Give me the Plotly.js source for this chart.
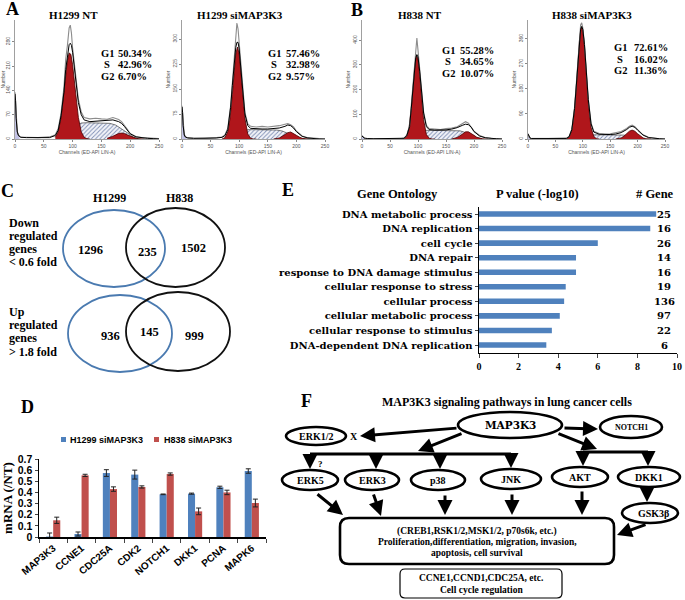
<!DOCTYPE html>
<html>
<head>
<meta charset="utf-8">
<script src="https://cdn.plot.ly/plotly-3.0.1.min.js"></script>
<style>body{margin:0;background:#fff}#fig{width:685px;height:600px}</style>
</head>
<body>
<div id="fig"></div>
<script>
var W = 685, H = 600;
function px(x) { return x / W; }
function py(y) { return 1 - y / H; }

var SERIF = "Liberation Serif, Times New Roman, serif";
var WIDE = "DejaVu Serif, serif";
var SANS = "Liberation Sans, Arial, sans-serif";

// ---- A / B : DNA content histograms (channels vs count)
var CHX = [0,1,2,4,6,8,10,20,40,60,70,75,80,85,88,91,94,96,98,100,103,106,110,115,120,130,140,150,160,170,180,185,190,195,200,210,220,230,240,250];
var G1X = [70,75,80,84,88,91,94,97,100,103,106,110,115,120,125,130];
var SX = [85,95,105,115,125,135,145,155,165,175,185,195,205,215];
var G2X = [160,165,170,175,180,185,190,195,200,205,210,215,220,225];
var DBX = [0,1,2,3,4,6,8];

var NT1299_MODEL = [130,110,60,20,10,6,5,4,3,4,10,25,68,135,200,245,272,276,270,250,205,160,105,70,55,50,51,52,54,55,50,45,36,25,15,6,3,2,1,0];
var NT1299_DATA = [135,100,55,22,12,7,5,5,4,6,12,30,75,150,230,270,320,328,305,262,215,165,115,78,62,58,60,58,57,62,56,50,40,28,16,7,4,3,2,1];
var NT1299_G1 = [5,21,62,118,185,226,248,244,214,168,118,62,21,5,1,0];
var NT1299_S = [5,20,38,46,47,47,47,46,45,40,30,18,6,0];
var NT1299_G2 = [2,4,8,12,16,17,16,12,8,4,2,1,0,0];
var NT1299_DEB = [130,110,60,35,20,10,6];

var SI1299_MODEL = [96,80,40,12,6,4,3,2,2,3,5,10,28,95,160,225,275,290,290,270,220,150,75,40,32,30,30,30,31,33,38,42,40,33,22,8,3,1,0,0];
var SI1299_DATA = [100,75,38,14,7,5,4,3,2,4,6,12,32,100,170,240,320,348,330,290,230,160,80,45,38,36,38,36,37,40,44,46,43,36,24,9,4,2,1,0];
var SI1299_G1 = [0,4,21,62,134,200,255,276,255,200,134,62,15,2,0,0];
var SI1299_S = [2,10,22,28,28,28,28,28,27,24,18,10,3,0];
var SI1299_G2 = [0,1,3,8,14,19,21,17,11,6,2,1,0,0];
var SI1299_DEB = [96,80,40,20,10,5,3];

var NT838_MODEL = [12,10,6,4,3,2,2,1,1,1,1,3,14,50,125,210,295,330,342,332,275,195,105,50,38,36,36,37,40,46,56,60,58,48,30,12,5,2,1,0];
var NT838_DATA = [14,10,6,4,3,2,2,2,1,2,2,4,16,55,135,225,320,380,409,360,290,200,110,55,42,40,38,42,44,50,62,70,64,50,32,14,6,3,1,0];
var NT838_G1 = [0,2,12,46,122,206,289,336,326,263,178,78,18,3,0,0];
var NT838_S = [3,12,28,35,35,35,35,35,35,33,26,15,5,0];
var NT838_G2 = [0,2,6,13,22,29,29,23,15,7,3,1,0,0];
var NT838_DEB = [12,10,6,4,3,2,2];

var SI838_MODEL = [18,14,6,3,2,2,1,1,1,1,2,8,34,110,190,282,362,395,405,395,340,255,142,55,25,17,16,16,18,23,34,42,46,42,32,14,5,2,1,0];
var SI838_DATA = [20,14,6,3,2,2,1,1,1,2,3,9,36,115,198,290,375,410,418,400,345,260,145,58,28,20,18,19,22,27,38,46,50,44,34,15,6,3,1,0];
var SI838_G1 = [0,7,32,88,185,276,357,402,392,334,246,132,42,9,1,0];
var SI838_S = [1,6,12,15,15,15,15,15,15,14,11,7,2,0];
var SI838_G2 = [0,1,4,10,19,28,32,28,19,10,4,1,0,0];
var SI838_DEB = [18,14,6,4,3,2,1];

var HIST_NAMES = ["H1299 NT", "H1299 siMAP3K3", "H838 NT", "H838 siMAP3K3"];
var PHASES = ["G1", "S", "G2"];
var HIST_G1P = ["50.34%", "57.46%", "55.28%", "72.61%"];
var HIST_SP = ["42.96%", "32.98%", "34.65%", "16.02%"];
var HIST_G2P = ["6.70%", "9.57%", "10.07%", "11.36%"];
var HIST_MEAN = [[95], [97], [98], [98, 193]];

var HIST_MODEL = [NT1299_MODEL, SI1299_MODEL, NT838_MODEL, SI838_MODEL];
var HIST_DATA = [NT1299_DATA, SI1299_DATA, NT838_DATA, SI838_DATA];
var HIST_G1 = [NT1299_G1, SI1299_G1, NT838_G1, SI838_G1];
var HIST_S = [NT1299_S, SI1299_S, NT838_S, SI838_S];
var HIST_G2 = [NT1299_G2, SI1299_G2, NT838_G2, SI838_G2];
var HIST_DEB = [NT1299_DEB, SI1299_DEB, NT838_DEB, SI838_DEB];

// ---- C : venn counts (H1299 only, shared, H838 only)
var VENN_DOWN = [1296, 235, 1502];
var VENN_UP = [936, 145, 999];

// ---- E : gene ontology
var GO_TERMS = ["DNA metabolic process", "DNA replication", "cell cycle", "DNA repair",
	"response to DNA damage stimulus", "cellular response to stress", "cellular process",
	"cellular metabolic process", "cellular response to stimulus", "DNA-dependent DNA replication"];
var GO_P = [8.95, 8.65, 6.0, 4.9, 4.9, 4.38, 4.3, 4.08, 3.68, 3.4];
var GO_N = [25, 16, 26, 14, 16, 19, 136, 97, 22, 6];

// ---- D : qPCR
var GENES = ["MAP3K3", "CCNE1", "CDC25A", "CDK2", "NOTCH1", "DKK1", "PCNA", "MAPK6"];
var H1299_MRNA = [0.004, 0.027, 0.574, 0.56, 0.383, 0.389, 0.446, 0.592];
var H1299_ERR = [0.032, 0.018, 0.03, 0.04, 0.003, 0.005, 0.01, 0.02];
var H838_MRNA = [0.15, 0.553, 0.43, 0.449, 0.565, 0.23, 0.40, 0.305];
var H838_ERR = [0.028, 0.01, 0.02, 0.01, 0.01, 0.03, 0.02, 0.035];

// ---- F : pathway nodes
var F_NODES = ["MAP3K3", "ERK1/2", "NOTCH1", "ERK5", "ERK3", "p38", "JNK", "AKT", "DKK1", "GSK3β"];
var F_BOX1 = ["(CREB1,RSK1/2,MSK1/2, p70s6k, etc.)", "Proliferation,differentiation, migration, invasion,", "apoptosis, cell survival"];
var F_BOX2 = ["CCNE1,CCND1,CDC25A, etc.", "Cell cycle regulation"];

// layout boxes (pixels)
var HIST_BOX = [
	{l: 15, r: 159, ymax: 343, dtick: 70, tx: 73, sl: 107, sv: 116, sy: [53, 64, 76]},
	{l: 182, r: 325, ymax: 357, dtick: 75, tx: 240, sl: 274, sv: 284, sy: [53, 64, 76]},
	{l: 362, r: 502, ymax: 482, dtick: 100, tx: 420, sl: 448, sv: 458, sy: [51, 62, 73]},
	{l: 528, r: 665, ymax: 428, dtick: 90, tx: 592, sl: 620, sv: 632, sy: [48, 60, 71]}
];
var F_POS = [[510, 425, 52, 13], [316, 436, 30, 9], [631, 427, 31, 11], [310, 480, 28, 10], [372, 480, 27, 10],
	[438, 480, 27, 10], [511, 479, 30, 10], [580, 477, 28, 10], [649, 477, 31, 10], [650, 513, 28, 10]];

var traces = [];
var annotations = [];
var shapes = [];
var layout = {
	width: W,
	height: H,
	margin: {l: 0, r: 0, t: 0, b: 0},
	paper_bgcolor: "#fff",
	plot_bgcolor: "rgba(0,0,0,0)",
	showlegend: false,
	barmode: "group",
	bargap: 0.5,
	bargroupgap: 0,
	font: {family: SERIF, color: "#000"}
};

function label(text, x, y, size, family, anchor) {
	annotations.push({
		text: text, x: px(x), y: py(y), xref: "paper", yref: "paper",
		xanchor: anchor || "center", yanchor: "middle", showarrow: false,
		font: {family: family || SERIF, size: size, weight: "bold", color: "#000"}
	});
}

function arrow(x1, y1, x2, y2) {
	annotations.push({
		text: "", x: px(x2), y: py(y2), xref: "paper", yref: "paper",
		ax: x1 - x2, ay: y1 - y2, axref: "pixel", ayref: "pixel",
		showarrow: true, arrowhead: 2, arrowsize: 1, arrowwidth: 3, arrowcolor: "#000"
	});
}

function ellipse(cx, cy, rx, ry, color, width) {
	shapes.push({
		type: "circle", xref: "paper", yref: "paper",
		x0: px(cx - rx), x1: px(cx + rx), y0: py(cy + ry), y1: py(cy - ry),
		line: {color: color, width: width}
	});
}

function rrect(x0, y0, x1, y1, r, width) {
	var p = function (x, y) { return px(x) + "," + py(y); };
	var path = "M" + p(x0 + r, y0) + " L" + p(x1 - r, y0) + " Q" + p(x1, y0) + " " + p(x1, y0 + r) +
		" L" + p(x1, y1 - r) + " Q" + p(x1, y1) + " " + p(x1 - r, y1) +
		" L" + p(x0 + r, y1) + " Q" + p(x0, y1) + " " + p(x0, y1 - r) +
		" L" + p(x0, y0 + r) + " Q" + p(x0, y0) + " " + p(x0 + r, y0) + " Z";
	shapes.push({type: "path", xref: "paper", yref: "paper", path: path, line: {color: "#000", width: width}});
}

function line(x0, y0, x1, y1, width) {
	shapes.push({type: "line", xref: "paper", yref: "paper", x0: px(x0), y0: py(y0), x1: px(x1), y1: py(y1),
		line: {color: "#000", width: width}});
}

// histograms
for (var i = 0; i < 4; i++) {
	var s = i === 0 ? "" : String(i + 1);
	var b = HIST_BOX[i];
	var xa = "x" + s, ya = "y" + s;

	traces.push({x: SX, y: HIST_S[i], xaxis: xa, yaxis: ya, mode: "lines", fill: "tozeroy",
		fillcolor: "#eef0f7", fillpattern: {shape: "/", fgcolor: "#7f8fb5", bgcolor: "#f3f4f9", size: 3, solidity: 0.3},
		line: {color: "#444", width: 0.7}, hoverinfo: "skip"});
	traces.push({x: DBX, y: HIST_DEB[i], xaxis: xa, yaxis: ya, mode: "lines", fill: "tozeroy",
		fillcolor: "#c3c3e6", line: {color: "#555", width: 0.5}, hoverinfo: "skip"});
	traces.push({x: G1X, y: HIST_G1[i], xaxis: xa, yaxis: ya, mode: "lines", fill: "tozeroy",
		fillcolor: "#b0161b", line: {color: "#4a0000", width: 0.8}, hoverinfo: "skip"});
	traces.push({x: G2X, y: HIST_G2[i], xaxis: xa, yaxis: ya, mode: "lines", fill: "tozeroy",
		fillcolor: "#b0161b", line: {color: "#4a0000", width: 0.8}, hoverinfo: "skip"});
	traces.push({x: CHX, y: HIST_DATA[i], xaxis: xa, yaxis: ya, mode: "lines",
		line: {color: "#8c8c8c", width: 1.1}, hoverinfo: "skip"});
	traces.push({x: CHX, y: HIST_MODEL[i], xaxis: xa, yaxis: ya, mode: "lines",
		line: {color: "#000", width: 1}, hoverinfo: "skip"});
	traces.push({x: HIST_MEAN[i], y: HIST_MEAN[i].map(function () { return -b.ymax * 0.03; }),
		xaxis: xa, yaxis: ya, mode: "markers", cliponaxis: false,
		marker: {symbol: "triangle-up", size: 5, color: "#000"}, hoverinfo: "skip"});

	layout["xaxis" + s] = {
		domain: [px(b.l), px(b.r)], anchor: "y" + s, range: [0, 250], dtick: 50,
		ticks: "outside", ticklen: 2, tickcolor: "#888", showline: true, linecolor: "#888", linewidth: 0.8,
		tickfont: {family: SANS, size: 5, color: "#555"}, showgrid: false, zeroline: false,
		title: {text: "Channels (ED-API LIN-A)", font: {family: SANS, size: 5, color: "#555"}, standoff: 1}
	};
	layout["yaxis" + s] = {
		domain: [py(139), py(20)], anchor: "x" + s, range: [0, b.ymax], dtick: b.dtick,
		ticks: "outside", ticklen: 2, tickcolor: "#888", showline: true, linecolor: "#888", linewidth: 0.8,
		tickfont: {family: SANS, size: 5, color: "#555"}, tickangle: -90, showgrid: false, zeroline: false,
		title: {text: "Number", font: {family: SANS, size: 5, color: "#555"}, standoff: 1}
	};

	label(HIST_NAMES[i], b.tx, 15, 11);
	var pct = [HIST_G1P[i], HIST_SP[i], HIST_G2P[i]];
	for (var k = 0; k < 3; k++) {
		label(PHASES[k], b.sl, b.sy[k], 10.5);
		label(pct[k], b.sv, b.sy[k], 10.5, SERIF, "left");
	}
}

// E: GO bars
traces.push({
	type: "bar", orientation: "h", y: GO_TERMS, x: GO_P, xaxis: "x5", yaxis: "y5",
	width: 0.38, marker: {color: "#4f81bd"}, hoverinfo: "skip"
});
layout.xaxis5 = {
	domain: [px(479), px(677)], anchor: "y5", range: [0, 10], dtick: 2,
	ticks: "outside", ticklen: 4, showline: true, linecolor: "#000", linewidth: 1.5,
	tickfont: {family: SERIF, size: 10, weight: "bold"}, showgrid: false, zeroline: false
};
layout.yaxis5 = {
	domain: [py(352.5), py(206.5)], anchor: "x5", autorange: "reversed", type: "category",
	ticks: "outside", ticklen: 3, showline: true, linecolor: "#000", linewidth: 1.5,
	tickfont: {family: WIDE, size: 10, weight: "bold"}, showgrid: false, automargin: false
};
for (var g = 0; g < GO_TERMS.length; g++) {
	annotations.push({
		text: String(GO_N[g]), x: px(664), y: GO_TERMS[g], xref: "paper", yref: "y5",
		showarrow: false, xanchor: "center", font: {family: WIDE, size: 10, weight: "bold"}
	});
}
label("Gene Ontology", 397, 194, 12.5);
label("P value (-log10)", 537, 194, 12.5);
label("# Gene", 655, 194, 12.5);

// D: qPCR bars
traces.push({
	type: "bar", x: GENES, y: H1299_MRNA, xaxis: "x6", yaxis: "y6", name: "H1299 siMAP3K3",
	marker: {color: "#4f81bd"}, hoverinfo: "skip",
	error_y: {type: "data", array: H1299_ERR, color: "#222", thickness: 1, width: 2.5}
});
traces.push({
	type: "bar", x: GENES, y: H838_MRNA, xaxis: "x6", yaxis: "y6", name: "H838 siMAP3K3",
	marker: {color: "#c0504d"}, hoverinfo: "skip",
	error_y: {type: "data", array: H838_ERR, color: "#222", thickness: 1, width: 2.5}
});
layout.xaxis6 = {
	domain: [px(39), px(266)], anchor: "y6", tickangle: -40, tickson: "boundaries",
	ticks: "outside", ticklen: 4, showline: true, linecolor: "#000", linewidth: 1.5,
	tickfont: {family: SANS, size: 10, weight: "bold"}, showgrid: false
};
layout.yaxis6 = {
	domain: [py(537), py(459)], anchor: "x6", range: [0, 0.7], dtick: 0.1,
	ticks: "outside", ticklen: 3, showline: true, linecolor: "#000", linewidth: 1.5,
	tickfont: {family: SANS, size: 10.5, weight: "bold"}, showgrid: false, zeroline: false,
	title: {text: "mRNA (/NT)", font: {family: SERIF, size: 13, weight: "bold"}, standoff: 4}
};
shapes.push({type: "rect", xref: "paper", yref: "paper", x0: px(61), x1: px(66), y0: py(442), y1: py(437),
	fillcolor: "#4f81bd", line: {width: 0}});
shapes.push({type: "rect", xref: "paper", yref: "paper", x0: px(154), x1: px(159), y0: py(442), y1: py(437),
	fillcolor: "#c0504d", line: {width: 0}});
label("H1299 siMAP3K3", 68, 440, 9, SANS, "left");
label("H838 siMAP3K3", 162, 440, 9, SANS, "left");

// panel letters
label("A", 12, 9, 18);
label("B", 357, 10, 18);
label("C", 8, 191, 18);
label("E", 288, 190, 18);
label("D", 27, 407, 18);
label("F", 306, 401, 18);

// C: venn
label("H1299", 109, 198, 12);
label("H838", 179, 198, 12);
ellipse(114, 248.5, 51, 38.5, "#4a7ab0", 1.8);
ellipse(175.5, 247.5, 49.5, 39.5, "#111", 1.8);
ellipse(120, 333.5, 52, 38.5, "#4a7ab0", 1.8);
ellipse(178, 331.5, 52, 39.5, "#111", 1.8);
label(String(VENN_DOWN[0]), 90, 250, 12.5);
label(String(VENN_DOWN[1]), 147, 252, 12.5);
label(String(VENN_DOWN[2]), 193, 248, 12.5);
label(String(VENN_UP[0]), 110, 336, 12.5);
label(String(VENN_UP[1]), 149, 332, 12.5);
label(String(VENN_UP[2]), 194, 336, 12.5);
label("Down", 7, 223, 12, SERIF, "left");
label("regulated", 7, 236, 12, SERIF, "left");
label("genes", 7, 249, 12, SERIF, "left");
label("&lt; 0.6 fold", 7, 262, 12, SERIF, "left");
label("Up", 7, 312, 12, SERIF, "left");
label("regulated", 7, 325, 12, SERIF, "left");
label("genes", 7, 338, 12, SERIF, "left");
label("&gt; 1.8 fold", 7, 352, 12, SERIF, "left");

// F: pathway diagram
label("MAP3K3 signaling pathways in lung cancer cells", 507, 402, 12);
for (var n = 0; n < F_NODES.length; n++) {
	var p = F_POS[n];
	ellipse(p[0], p[1], p[2], p[3], "#000", 2.6);
	var fs = n === 0 ? 10.5 : (n === 2 ? 8 : 10);
	label(F_NODES[n], p[0] + (n === 9 ? 3 : 0), p[1], fs, n === 0 ? WIDE : SERIF);
}
label("X", 354, 436, 10);
label("?", 320, 464, 9);

arrow(458, 428, 360, 436);
arrow(463, 433, 418, 451);
arrow(563, 428, 598, 429);
arrow(557, 433, 597, 449);
line(310, 454, 511, 454, 3);
line(583, 452, 648, 452, 3);
arrow(310, 453, 310, 469);
arrow(376, 453, 376, 469);
arrow(440, 453, 440, 469);
arrow(511, 453, 511, 468);
arrow(583, 451, 583, 466);
arrow(648, 451, 648, 466);
arrow(316, 493, 343, 515);
arrow(373, 493, 381, 516);
arrow(445, 494, 445, 515);
arrow(512, 493, 512, 515);
arrow(582, 490, 582, 515);
arrow(647, 487, 647, 502);
arrow(647, 524, 617, 535);

rrect(340, 518, 614, 564, 9, 2.6);
label(F_BOX1[0], 477, 531, 9.5);
label(F_BOX1[1], 477, 542, 9.5);
label(F_BOX1[2], 477, 553, 9.5);
rrect(400, 569, 562, 598, 5, 1.2);
label(F_BOX2[0], 481, 578, 9.5);
label(F_BOX2[1], 481, 590, 9.5);

layout.annotations = annotations;
layout.shapes = shapes;

Plotly.newPlot("fig", traces, layout, {staticPlot: true, displayModeBar: false});
</script>
</body>
</html>
